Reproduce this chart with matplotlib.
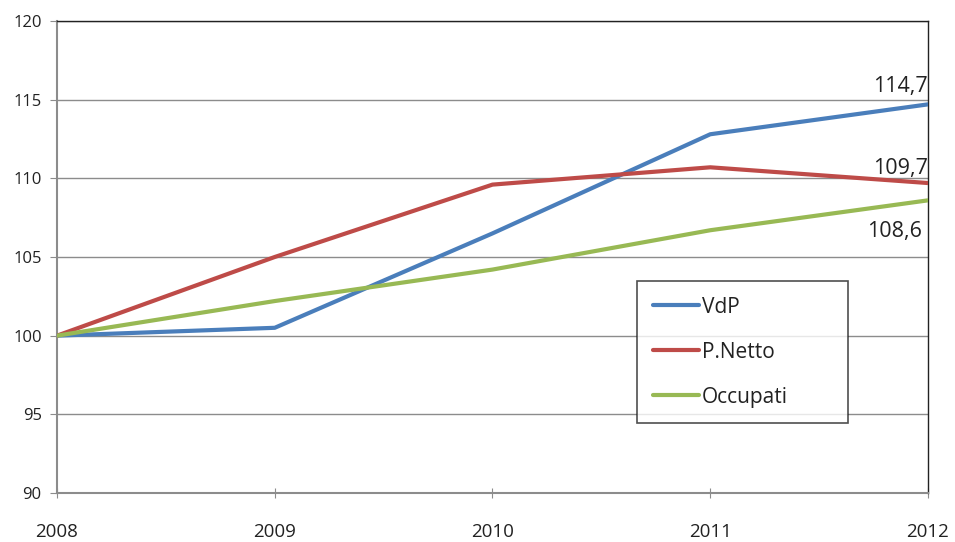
import matplotlib
matplotlib.use("Agg")
import matplotlib.pyplot as plt

years = [2008, 2009, 2010, 2011, 2012]
vdp = [100.0, 100.5, 106.5, 112.8, 114.7]
pnetto = [100.0, 105.0, 109.6, 110.7, 109.7]
occupati = [100.0, 102.2, 104.2, 106.7, 108.6]
series_names = ["VdP", "P.Netto", "Occupati"]
yticks = [90, 95, 100, 105, 110, 115, 120]

plt.rcParams['font.family'] = ['Open Sans', 'DejaVu Sans']

fig = plt.figure(figsize=(9.55, 5.42), dpi=100)
ax = fig.add_axes([0.0597, 0.0904, 0.9120, 0.8709])

colors = ["#4A7EBB", "#BE4B48", "#98B954"]
for vals, name, c in zip([vdp, pnetto, occupati], series_names, colors):
    ax.plot(years, vals, color=c, lw=3.0, label=name, solid_capstyle='round', zorder=3)

ax.set_xlim(2008, 2012)
ax.set_ylim(90, 120)
ax.set_yticks(yticks)
ax.set_xticks(years)
ax.yaxis.grid(True, color="#8c8c8c", lw=1.0)
ax.set_axisbelow(True)

for s in ["left", "bottom"]:
    ax.spines[s].set_color("#8c8c8c")
    ax.spines[s].set_linewidth(1.5)
for s in ["top", "right"]:
    ax.spines[s].set_color("#222222")
    ax.spines[s].set_linewidth(1.0)

ax.tick_params(axis='y', length=5, color="#8c8c8c", labelsize=12, pad=6)
ax.tick_params(axis='x', length=7, color="#8c8c8c", labelsize=13.5, pad=18, direction='inout')
for lbl in ax.get_xticklabels() + ax.get_yticklabels():
    lbl.set_color("#222222")

# end-of-series value labels
ax.annotate(f"{vdp[-1]:.1f}".replace(".", ","), (years[-1], vdp[-1]), xytext=(0, 5),
            textcoords="offset points", ha="right", va="bottom", fontsize=15.5, color="#222222")
ax.annotate(f"{pnetto[-1]:.1f}".replace(".", ","), (years[-1], pnetto[-1]), xytext=(0, 3),
            textcoords="offset points", ha="right", va="bottom", fontsize=15.5, color="#222222")
ax.annotate(f"{occupati[-1]:.1f}".replace(".", ","), (years[-1], occupati[-1]), xytext=(-4, -15),
            textcoords="offset points", ha="right", va="top", fontsize=15.5, color="#222222")

leg = ax.legend(loc="lower left", bbox_to_anchor=(0.666, 0.148, 0.242, 0.297), mode="expand",
                fontsize=15, frameon=True, fancybox=False, handlelength=2.2,
                borderpad=0.75, labelspacing=1.15, handletextpad=0.15, borderaxespad=0)
leg.get_frame().set_edgecolor("#222222")
leg.get_frame().set_linewidth(1.2)
for t in leg.get_texts():
    t.set_color("#222222")

fig.savefig("out.png", dpi=100)
